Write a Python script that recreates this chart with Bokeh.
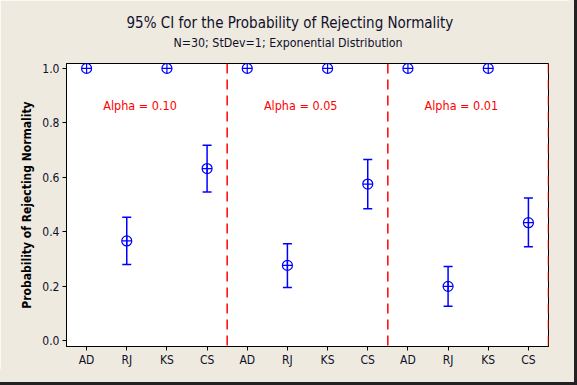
from bokeh.plotting import figure
from bokeh.models import (ColumnDataSource, Whisker, TeeHead, Span, Label, Title,
                          FixedTicker, NumeralTickFormatter)
from bokeh.embed import file_html
from bokeh.resources import INLINE

# ---- data ----
tests = ["AD", "RJ", "KS", "CS"]
alphas = ["0.10", "0.05", "0.01"]
prob_010 = [1.0, 0.366, 1.0, 0.632]
prob_005 = [1.0, 0.276, 1.0, 0.575]
prob_001 = [1.0, 0.199, 1.0, 0.433]
lower_010 = [1.0, 0.279, 1.0, 0.546]
lower_005 = [1.0, 0.195, 1.0, 0.484]
lower_001 = [1.0, 0.126, 1.0, 0.345]
upper_010 = [1.0, 0.453, 1.0, 0.718]
upper_005 = [1.0, 0.356, 1.0, 0.665]
upper_001 = [1.0, 0.272, 1.0, 0.524]
y_ticks = [0.0, 0.2, 0.4, 0.6, 0.8, 1.0]
title = "95% CI for the Probability of Rejecting Normality"
subtitle = "N=30; StDev=1; Exponential Distribution"
ylabel = "Probability of Rejecting Normality"

FONT = "DejaVu Sans Condensed"
TXT = "#10102a"
BG = "#EEEAE0"

probs = prob_010 + prob_005 + prob_001
lowers = lower_010 + lower_005 + lower_001
uppers = upper_010 + upper_005 + upper_001
labels = tests * len(alphas)
xs = list(range(1, len(labels) + 1))
n = len(tests)
boundaries = [n * (i + 1) + 0.5 for i in range(len(alphas))]

p = figure(width=569, height=369, x_range=(0.5, 12.5), y_range=(-0.022, 1.018),
           output_backend="svg", toolbar_location=None,
           min_border_left=66, min_border_right=21, min_border_top=63, min_border_bottom=21)
p.styles = {"box-shadow": (f"5px 13px 0 0 {BG}, 5px 0 0 0 {BG}, 0 13px 0 0 {BG}, "
                           "8px 16px 0 0 #222, 8px 0 0 0 #222, 0 16px 0 0 #222")}
p.border_fill_color = BG
p.background_fill_color = "white"
p.outline_line_color = "black"
p.outline_line_width = 1
p.xgrid.visible = False
p.ygrid.visible = False

# axes
p.xaxis.ticker = FixedTicker(ticks=xs)
p.xaxis.major_label_overrides = {x: l for x, l in zip(xs, labels)}
p.yaxis.ticker = FixedTicker(ticks=y_ticks)
p.yaxis.formatter = NumeralTickFormatter(format="0.0")
for ax in (p.xaxis, p.yaxis):
    ax.major_tick_in = 0
    ax.major_tick_out = 4
    ax.minor_tick_in = 0
    ax.minor_tick_out = 0
    ax.axis_line_color = "black"
    ax.major_tick_line_color = "black"
    ax.major_label_text_font = FONT
    ax.major_label_text_font_size = "12px"
    ax.major_label_text_color = TXT
    ax.major_label_standoff = 3
p.xaxis.major_label_standoff = 2
p.yaxis.axis_label = ylabel
p.yaxis.axis_label_text_font = FONT
p.yaxis.axis_label_text_font_size = "12px"
p.yaxis.axis_label_text_font_style = "bold"
p.yaxis.axis_label_text_color = "black"
p.yaxis.axis_label_standoff = 5

# group separators
for b in boundaries:
    p.add_layout(Span(location=b, dimension="height", line_color="red",
                      line_dash="10 6", line_width=1.5))

# error bars (only where interval has width)
eb = [(x, lo, up) for x, lo, up in zip(xs, lowers, uppers) if up > lo]
src_eb = ColumnDataSource(dict(x=[e[0] for e in eb], lower=[e[1] for e in eb],
                               upper=[e[2] for e in eb]))
p.add_layout(Whisker(base="x", lower="lower", upper="upper", source=src_eb,
                     dimension="height", line_color="blue", line_width=1.5,
                     upper_head=TeeHead(size=9, line_color="blue", line_width=1.5),
                     lower_head=TeeHead(size=9, line_color="blue", line_width=1.5)))

src = ColumnDataSource(dict(x=xs, y=probs))
p.scatter("x", "y", source=src, marker="circle_cross", size=10,
          line_color="blue", fill_color=None, line_width=1.2)

# alpha labels
for i, a in enumerate(alphas):
    p.add_layout(Label(x=n * i + 2.33, y=0.865, text=f"Alpha = {a}",
                       text_align="center", text_baseline="middle",
                       text_color="red", text_font=FONT, text_font_size="12.5px"))

# titles (subtitle first = closest to the frame)
p.add_layout(Title(text=subtitle, align="left", offset=107, standoff=24,
                   vertical_align="top",
                   text_color=TXT, text_font=FONT, text_font_size="12.3px",
                   text_font_style="normal"), "above")
p.add_layout(Title(text=title, align="left", offset=60, standoff=-17,
                   vertical_align="bottom",
                   text_color=TXT, text_font=FONT, text_font_size="15px",
                   text_font_style="normal"), "above")

open("out.html", "w").write(file_html(p, INLINE))
